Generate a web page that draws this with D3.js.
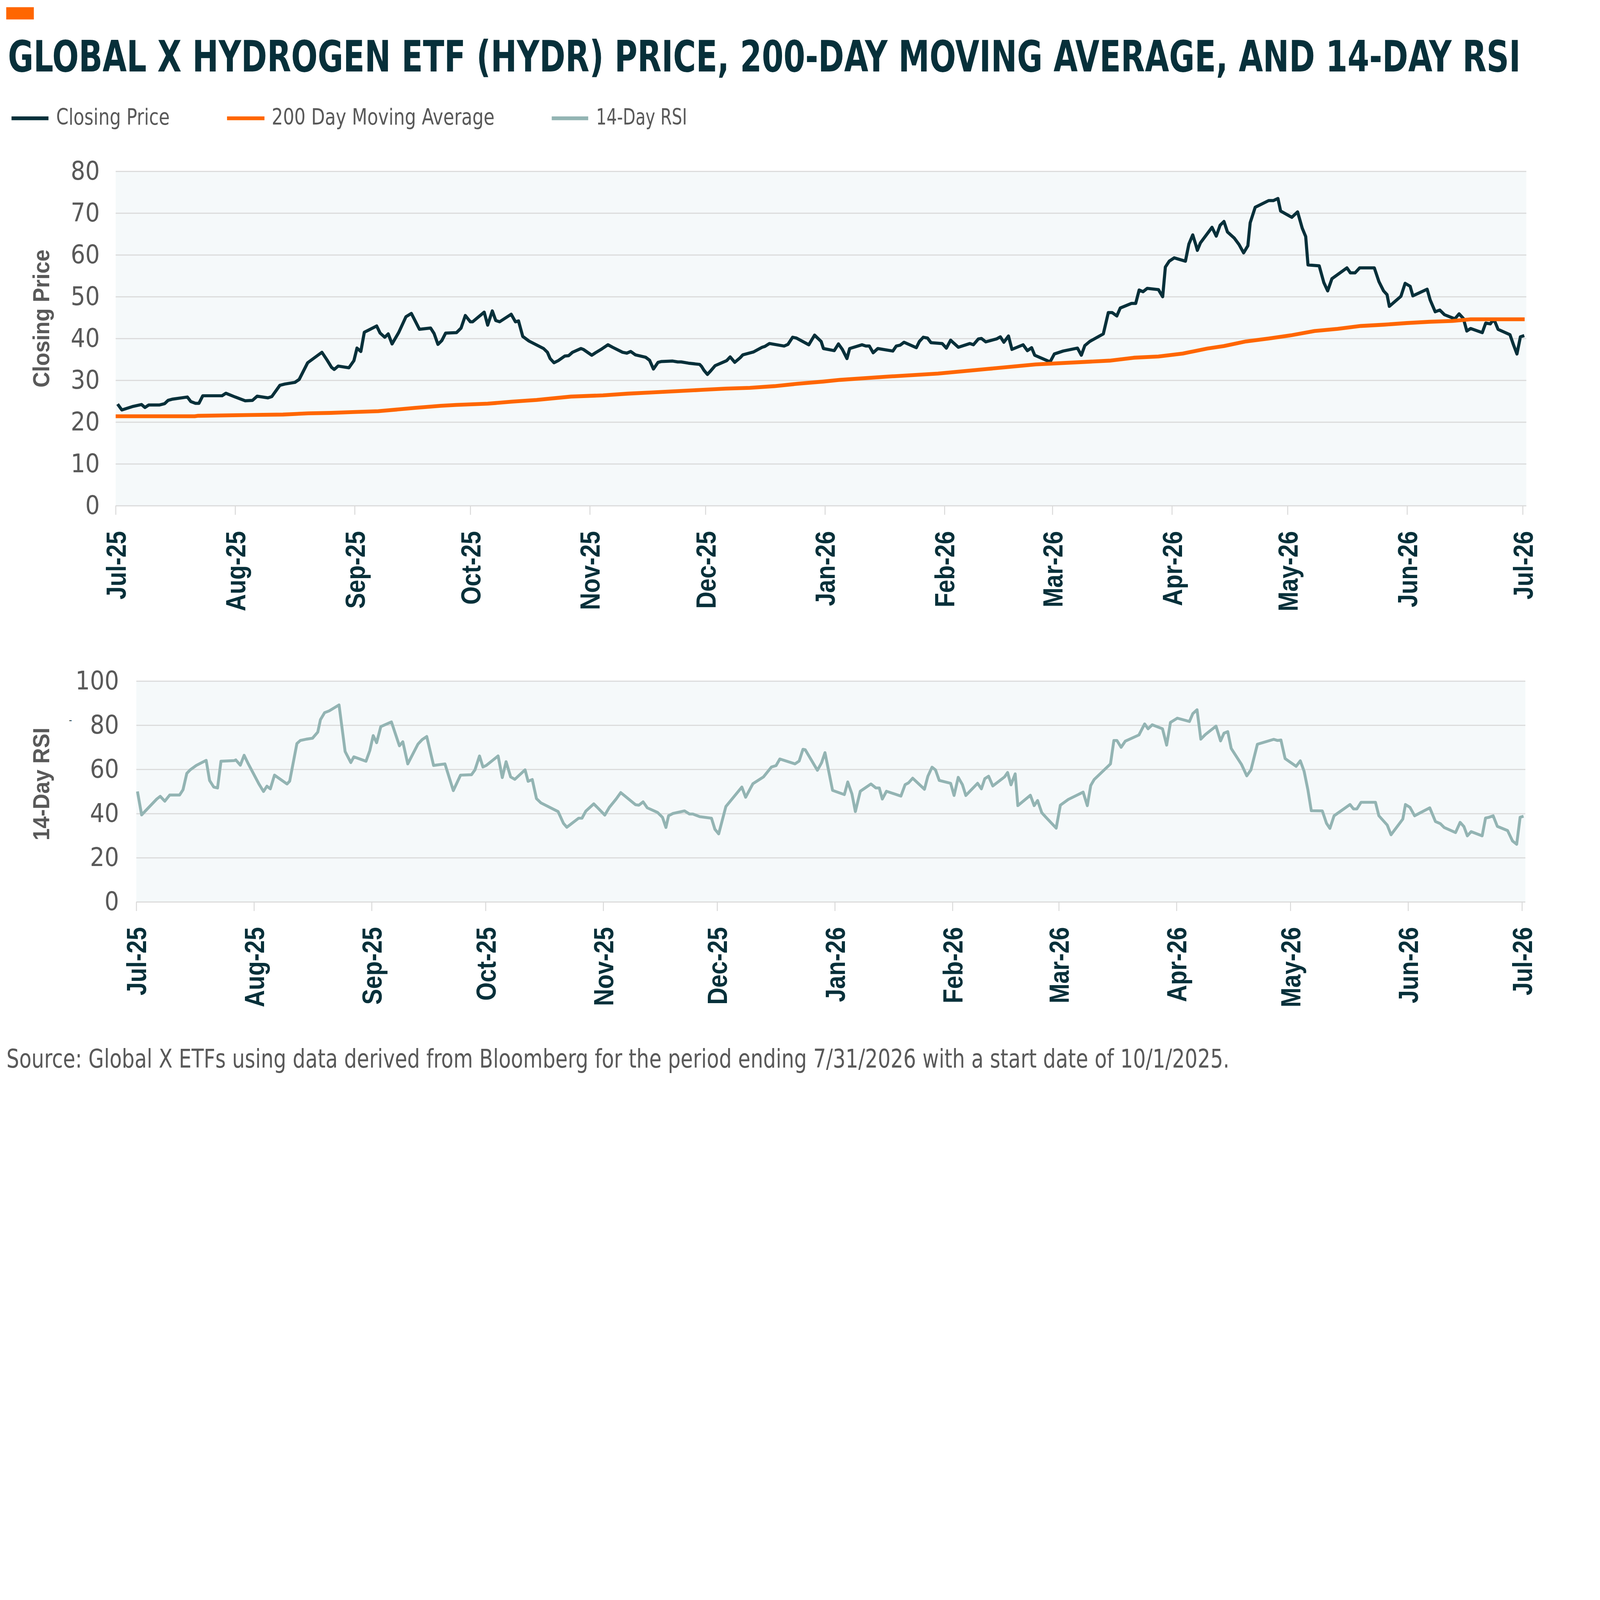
<!DOCTYPE html>
<html>
<head>
<meta charset="utf-8">
<script src="https://cdn.jsdelivr.net/npm/d3@7"></script>
<style>
html, body { margin: 0; padding: 0; background: #ffffff; width: 100%; height: 100%; overflow: hidden; }
svg { display: block; width: 100vw; height: 100vh; }
</style>
</head>
<body>
<svg id="chart" viewBox="0 0 6667 4486" preserveAspectRatio="xMidYMin meet"></svg>
<script>
// ---------------- DATA ----------------
const titleText = "GLOBAL X HYDROGEN ETF (HYDR) PRICE, 200-DAY MOVING AVERAGE, AND 14-DAY RSI";
const legendLabels = ["Closing Price", "200 Day Moving Average", "14-Day RSI"];
const sourceText = "Source: Global X ETFs using data derived from Bloomberg for the period ending 7/31/2026 with a start date of 10/1/2025.";
const priceAxisTitle = "Closing Price";
const rsiAxisTitle = "14-Day RSI";
const startDate = "2025-07-01";
const endDate = "2026-07-01";
const priceTicks = [0, 10, 20, 30, 40, 50, 60, 70, 80];
const rsiTicks = [0, 20, 40, 60, 80, 100];

// x values are days since 1 Jul 2025
const priceDays = [0.5,1.6,4.3,6.7,7.6,8.6,11.4,12.7,13.6,14.8,18.6,19.5,20.7,21.6,22.6,27.6,28.6,31.0,33.6,35.5,36.7,39.5,40.5,42.6,43.9,46.5,47.6,49.8,53.5,54.8,56.0,56.7,57.7,60.5,61.8,62.6,63.6,64.5,65.6,67.7,68.6,69.8,70.7,71.7,73.4,75.3,76.7,77.7,78.8,81.7,82.6,83.6,84.6,85.6,88.4,89.6,90.7,92.0,92.6,95.6,96.5,97.7,98.6,99.6,102.6,103.7,104.5,105.6,107.2,111.0,112.0,112.7,113.7,114.8,116.5,117.5,118.5,120.7,121.3,123.5,124.5,126.1,127.7,128.9,131.5,132.6,133.6,134.8,137.5,138.5,139.5,140.7,141.6,144.5,145.8,146.7,148.6,151.5,152.0,152.6,153.5,154.2,155.5,158.5,159.4,160.6,162.0,162.7,165.5,167.7,168.4,169.6,173.4,174.4,175.6,176.6,179.8,181.3,183.0,183.6,186.4,187.5,188.5,189.7,190.4,193.6,194.6,195.5,196.5,197.7,201.6,202.5,203.5,204.5,207.7,208.5,209.5,210.6,211.5,214.4,215.5,216.6,217.4,218.6,221.6,222.5,223.8,224.6,225.7,228.5,229.5,230.4,231.6,232.5,235.4,236.5,237.6,238.4,242.4,243.5,245.8,249.5,250.5,251.4,252.7,256.2,257.5,258.5,259.7,260.6,263.5,264.6,265.5,266.5,267.6,270.5,271.6,272.3,273.3,274.6,277.5,278.4,279.4,280.2,280.6,281.4,284.4,285.5,286.5,287.5,288.4,290.2,291.4,292.6,293.7,294.3,295.6,299.1,300.3,301.5,302.2,305.1,306.6,307.8,308.7,309.3,312.2,313.4,314.4,315.5,319.4,320.3,321.5,322.7,326.5,327.7,328.9,329.8,330.4,333.4,334.5,335.8,336.5,340.2,341.0,342.3,343.5,344.7,347.4,348.5,349.6,350.5,351.5,354.5,355.4,356.6,357.2,357.8,358.6,361.7,362.6,363.5,364.4,365.4];
const priceValues = [24.3,22.9,23.7,24.2,23.5,24.1,24.1,24.4,25.2,25.5,26.0,24.9,24.5,24.5,26.3,26.3,26.9,26.0,25.1,25.2,26.2,25.8,26.1,28.8,29.1,29.5,30.2,34.2,36.7,34.9,33.1,32.6,33.4,33.0,34.7,37.7,36.9,41.5,42.0,43.0,41.3,40.3,41.1,38.7,41.4,45.2,46.0,44.2,42.2,42.5,41.2,38.6,39.5,41.3,41.4,42.5,45.5,44.0,44.0,46.3,43.2,46.6,44.3,44.0,45.8,44.0,44.2,40.5,39.4,37.6,36.7,35.2,34.2,34.7,35.8,35.9,36.7,37.6,37.4,36.0,36.6,37.5,38.5,37.9,36.7,36.5,36.9,36.1,35.5,34.8,32.7,34.3,34.5,34.6,34.4,34.4,34.1,33.8,33.3,32.4,31.4,32.1,33.5,34.7,35.6,34.3,35.4,36.1,36.8,37.9,38.1,38.8,38.2,38.6,40.3,40.1,38.5,40.8,39.3,37.6,37.1,38.7,37.4,35.2,37.6,38.5,38.2,38.2,36.6,37.6,37.0,38.2,38.4,39.1,37.8,39.3,40.3,40.1,39.0,38.8,37.7,39.6,38.9,37.9,38.8,38.5,39.9,40.0,39.2,39.9,40.4,39.1,40.6,37.4,38.5,37.1,37.8,36.0,34.4,36.3,37.0,37.7,36.0,38.3,39.3,41.1,46.2,46.2,45.4,47.3,48.4,48.4,51.6,51.2,52.0,51.7,50.0,57.1,58.5,59.3,58.5,62.6,64.8,62.4,61.1,62.9,66.6,64.5,67.1,68.0,65.5,64.0,62.5,60.5,62.2,67.7,71.4,73.0,73.0,73.5,70.5,69.0,70.3,66.4,64.4,57.6,57.4,53.4,51.4,54.3,56.9,55.7,55.7,56.9,56.9,53.6,51.4,50.5,47.7,50.1,53.2,52.5,50.2,51.8,49.2,46.4,46.8,45.7,44.7,45.9,44.8,41.8,42.4,41.4,43.7,43.5,44.3,44.0,42.2,40.9,38.5,36.3,40.4,40.7];

const maDays = [0,20.5,21.4,34.8,43.4,50,55.8,61.5,68.1,77.7,84.3,88.3,96.5,102.9,109.2,118.1,126.4,132.8,139.1,145.5,151.8,158.2,164.5,170.9,177.2,183.6,187.9,200.6,213.3,226,238.7,251.4,257.8,264.1,270.5,276.8,283.2,287.5,293.2,299.1,305.1,311.0,317.0,323.0,328.9,334.9,340.8,346.8,351.5,365.5];
const maValues = [21.4,21.4,21.5,21.7,21.8,22.1,22.2,22.4,22.6,23.4,23.9,24.1,24.4,24.9,25.3,26.1,26.4,26.8,27.1,27.4,27.7,28.0,28.2,28.6,29.2,29.7,30.1,30.9,31.6,32.7,33.8,34.4,34.7,35.4,35.7,36.4,37.6,38.2,39.3,40.0,40.8,41.8,42.3,43.0,43.3,43.7,44.0,44.2,44.6,44.6];

const rsiDays = [0.3,1.4,5.4,6.3,7.5,8.8,11.4,12.3,13.3,14.2,15.8,18.4,19.3,20.4,21.4,22.3,25.8,26.2,27.4,28.4,29.5,32.3,33.5,34.4,35.3,36.4,39.7,40.4,42.3,43.2,44.8,46.4,47.8,48.5,49.6,50.8,53.4,55.0,56.5,57.3,60.5,61.5,62.4,63.3,64.4,67.2,69.3,70.2,71.5,74.2,75.3,76.5,78.3,81.3,83.5,85.4,88.3,89.2,90.4,91.3,92.2,95.3,96.4,97.4,98.6,99.7,102.4,103.2,104.3,105.4,106.6,111.1,112.5,113.4,116.5,117.4,118.4,120.5,123.4,124.6,126.4,127.6,131.5,132.4,133.5,134.6,137.3,138.6,139.5,140.2,141.3,144.4,145.7,146.6,148.4,151.5,152.4,153.4,155.3,159.5,160.5,162.4,165.2,167.3,168.5,169.5,173.5,174.6,175.6,176.2,179.4,180.5,181.4,183.4,186.5,187.4,188.5,189.4,190.7,193.5,194.8,195.7,196.5,197.6,201.4,202.5,203.4,204.5,207.6,208.5,209.6,210.5,211.5,214.5,215.4,216.5,217.6,218.5,221.6,222.6,223.5,224.5,225.6,228.7,229.5,230.4,231.5,232.2,235.5,236.5,237.4,238.5,239.6,242.3,243.4,245.5,249.4,250.5,251.4,252.3,256.6,257.5,258.3,259.4,260.5,264.1,265.6,266.5,267.6,270.3,271.4,272.4,274.2,277.4,278.3,279.4,280.4,281.6,284.4,285.6,286.5,287.5,288.4,291.1,292.5,293.6,295.3,299.6,300.6,301.5,302.6,305.5,306.6,307.6,308.6,309.5,312.4,313.5,314.4,315.5,319.7,320.6,321.5,322.6,326.4,327.3,329.5,330.5,333.6,334.3,335.5,336.7,340.7,342.2,343.5,344.5,347.5,348.7,349.7,350.6,351.6,354.5,355.4,356.3,357.4,358.5,361.2,362.5,363.6,364.5,365.4];
const rsiValues = [50.0,39.4,46.6,47.8,45.6,48.4,48.4,50.8,58.2,59.8,61.8,64.1,55.0,52.0,51.6,63.7,64.0,64.3,61.9,66.4,62.5,53.4,50.0,52.4,51.2,57.4,53.4,54.7,71.7,73.1,73.7,74.1,76.9,82.5,85.7,86.5,89.2,68.1,63.1,65.7,63.7,68.5,75.3,72.1,79.4,81.5,70.7,72.5,62.5,71.5,73.5,74.9,61.8,62.5,50.4,57.4,57.6,59.8,66.1,61.1,61.8,66.1,56.3,63.5,56.6,55.5,59.8,54.6,55.4,46.8,44.8,40.9,35.6,33.8,37.9,37.9,41.1,44.4,39.3,42.8,46.6,49.5,44.0,43.8,45.3,42.6,40.5,38.3,33.7,39.0,40.0,41.2,39.8,39.8,38.6,37.9,32.9,30.8,43.2,52.0,47.4,53.5,56.6,61.1,61.7,64.7,62.5,63.8,69.1,68.9,59.6,63.0,67.6,50.5,48.6,54.3,48.9,40.9,50.1,53.4,51.6,51.6,46.6,50.1,47.9,53.1,53.9,56.0,51.0,56.9,61.0,59.8,55.0,53.7,48.2,56.4,53.1,48.2,53.7,51.2,55.8,56.9,52.5,56.6,58.6,53.0,58.0,43.6,48.3,43.6,45.9,40.4,38.3,33.4,43.8,46.4,49.7,43.6,52.7,55.4,62.5,73.1,73.1,70.0,72.8,75.6,80.6,78.4,80.2,78.4,71.0,81.3,83.2,81.7,85.3,87.0,73.7,75.8,79.6,72.9,76.4,77.1,69.5,62.3,57.1,59.8,71.4,73.6,73.1,73.3,64.9,61.4,63.9,59.2,50.8,41.3,41.2,35.6,33.3,39.0,44.1,42.1,42.1,45.1,45.1,39.0,34.8,30.4,37.5,44.1,42.8,39.0,42.6,36.4,35.4,33.7,31.4,36.0,34.1,29.9,31.8,29.9,38.0,38.3,39.0,34.2,32.3,27.6,26.1,38.3,38.8];

// ---------------- STYLE ----------------
const C = {
  dark: "#07303a",
  orange: "#ff6600",
  rsi: "#93b4b3",
  grey: "#595959",
  grid: "#d9d9d9",
  bg: "#f5f9fa"
};
const narrow = "'Liberation Sans Narrow', 'DejaVu Sans Condensed', 'Liberation Sans', sans-serif";
const sans = "'Liberation Sans', Arial, sans-serif";

const svg = d3.select("#chart");
svg.append("rect").attr("width", 6667).attr("height", 4486).attr("fill", "#ffffff");

const t0 = new Date(startDate + "T00:00:00Z");
const t1 = new Date(endDate + "T00:00:00Z");
const toDate = d => new Date(t0.getTime() + d * 86400000);
const monthTicks = d3.utcMonth.range(t0, d3.utcDay.offset(t1, 1));
const fmt = d3.utcFormat("%b-%y");

const priceData = priceDays.map((d, i) => ({ date: toDate(d), v: priceValues[i] }));
const maData = maDays.map((d, i) => ({ date: toDate(d), v: maValues[i] }));
const rsiData = rsiDays.map((d, i) => ({ date: toDate(d), v: rsiValues[i] }));

// text fitted to a target width by horizontal scaling (keeps glyph bbox inside the target)
function fittedText(parent, x, y, width, attrs, str) {
  const g = parent.append("g");
  const t = g.append("text").attr("x", 0).attr("y", 0).text(str);
  Object.entries(attrs).forEach(([k, v]) => t.attr(k, v));
  const w = t.node().getComputedTextLength();
  g.attr("transform", `translate(${x},${y}) scale(${width / w},1)`);
  return g;
}

// ---------------- HEADER ----------------
svg.append("rect").attr("x", 26).attr("y", 30).attr("width", 115).attr("height", 51).attr("fill", C.orange);
fittedText(svg, 33, 298, 6304,
  { "font-family": narrow, "font-weight": "bold", "font-size": 180, fill: C.dark }, titleText);

const legendItems = [
  { label: legendLabels[0], color: C.dark, x1: 48, x2: 202, tx: 234, tl: 473 },
  { label: legendLabels[1], color: C.orange, x1: 946, x2: 1102, tx: 1132, tl: 929 },
  { label: legendLabels[2], color: C.rsi, x1: 2299, x2: 2451, tx: 2484, tl: 379 }
];
const lg = svg.append("g");
lg.selectAll("line").data(legendItems).join("line")
  .attr("x1", d => d.x1).attr("x2", d => d.x2)
  .attr("y1", 493).attr("y2", 493)
  .attr("stroke", d => d.color).attr("stroke-width", 16);
legendItems.forEach(d => fittedText(lg, d.tx, 519, d.tl,
  { "font-family": narrow, "font-size": 92, fill: C.grey }, d.label));

// ---------------- PANEL BUILDER ----------------
function panel(cfg) {
  const g = svg.append("g");
  const x = d3.scaleUtc().domain([t0, t1]).range([cfg.left, cfg.xEnd]);
  const y = d3.scaleLinear().domain(cfg.yDomain).range([cfg.bottom, cfg.top]);

  g.append("rect")
    .attr("x", cfg.left).attr("y", cfg.top)
    .attr("width", cfg.right - cfg.left).attr("height", cfg.bottom - cfg.top)
    .attr("fill", C.bg);

  // y axis with gridlines
  const ya = g.append("g").attr("transform", `translate(${cfg.left},0)`)
    .call(d3.axisLeft(y).tickValues(cfg.yTicks).tickSize(-(cfg.right - cfg.left)).tickPadding(cfg.yPad));
  ya.select(".domain").remove();
  ya.selectAll(".tick line").attr("stroke", C.grid).attr("stroke-width", 4.5);
  ya.selectAll(".tick text")
    .attr("font-family", narrow).attr("font-size", 106).attr("fill", C.grey);

  // x axis
  const xa = g.append("g").attr("transform", `translate(0,${cfg.bottom})`)
    .call(d3.axisBottom(x).tickValues(monthTicks).tickFormat(fmt).tickSize(38).tickSizeOuter(0));
  xa.select(".domain").remove();
  xa.selectAll(".tick line").attr("stroke", C.grid).attr("stroke-width", 4);
  xa.selectAll(".tick text")
    .attr("transform", "rotate(-90)")
    .attr("x", -cfg.labelGap).attr("y", 0).attr("dy", "0.36em")
    .attr("text-anchor", "end")
    .attr("font-family", sans).attr("font-weight", "bold").attr("font-size", 114)
    .attr("fill", C.dark)
    .each(function () {
      const w = this.getComputedTextLength();
      d3.select(this).attr("textLength", w * 0.865).attr("lengthAdjust", "spacingAndGlyphs");
    });

  // axis title
  g.append("text")
    .attr("transform", `translate(205,${cfg.titleY}) rotate(-90)`)
    .attr("text-anchor", "middle")
    .attr("font-family", sans).attr("font-weight", "bold").attr("font-size", 96)
    .attr("fill", C.grey)
    .attr("textLength", cfg.titleLen).attr("lengthAdjust", "spacingAndGlyphs")
    .text(cfg.title);

  const line = d3.line().x(d => x(d.date)).y(d => y(d.v));
  cfg.series.forEach(s => {
    g.append("path").datum(s.data)
      .attr("d", line)
      .attr("fill", "none")
      .attr("stroke", s.color).attr("stroke-width", s.width)
      .attr("stroke-linejoin", "round").attr("stroke-linecap", "butt");
  });
  return g;
}

panel({
  left: 482, right: 6360, xEnd: 6345, top: 714, bottom: 2107,
  yDomain: [0, 80], yTicks: priceTicks, yPad: 66, labelGap: 106,
  title: priceAxisTitle, titleY: 1327, titleLen: 575,
  series: [
    { data: priceData, color: C.dark, width: 13 },
    { data: maData, color: C.orange, width: 16 }
  ]
});

panel({
  left: 568, right: 6356, xEnd: 6342, top: 2838, bottom: 3758,
  yDomain: [0, 100], yTicks: rsiTicks, yPad: 72, labelGap: 105,
  title: rsiAxisTitle, titleY: 3267, titleLen: 470,
  series: [
    { data: rsiData, color: C.rsi, width: 12 }
  ]
});

// stray small dash left of the RSI "80" label, as in the source image
svg.append("text").attr("x", 287).attr("y", 3013)
  .attr("font-family", sans).attr("font-size", 40).attr("fill", C.dark).text("-");

// ---------------- SOURCE ----------------
fittedText(svg, 27, 4449, 5095,
  { "font-family": narrow, "font-size": 106, fill: C.grey }, sourceText);
</script>
</body>
</html>
